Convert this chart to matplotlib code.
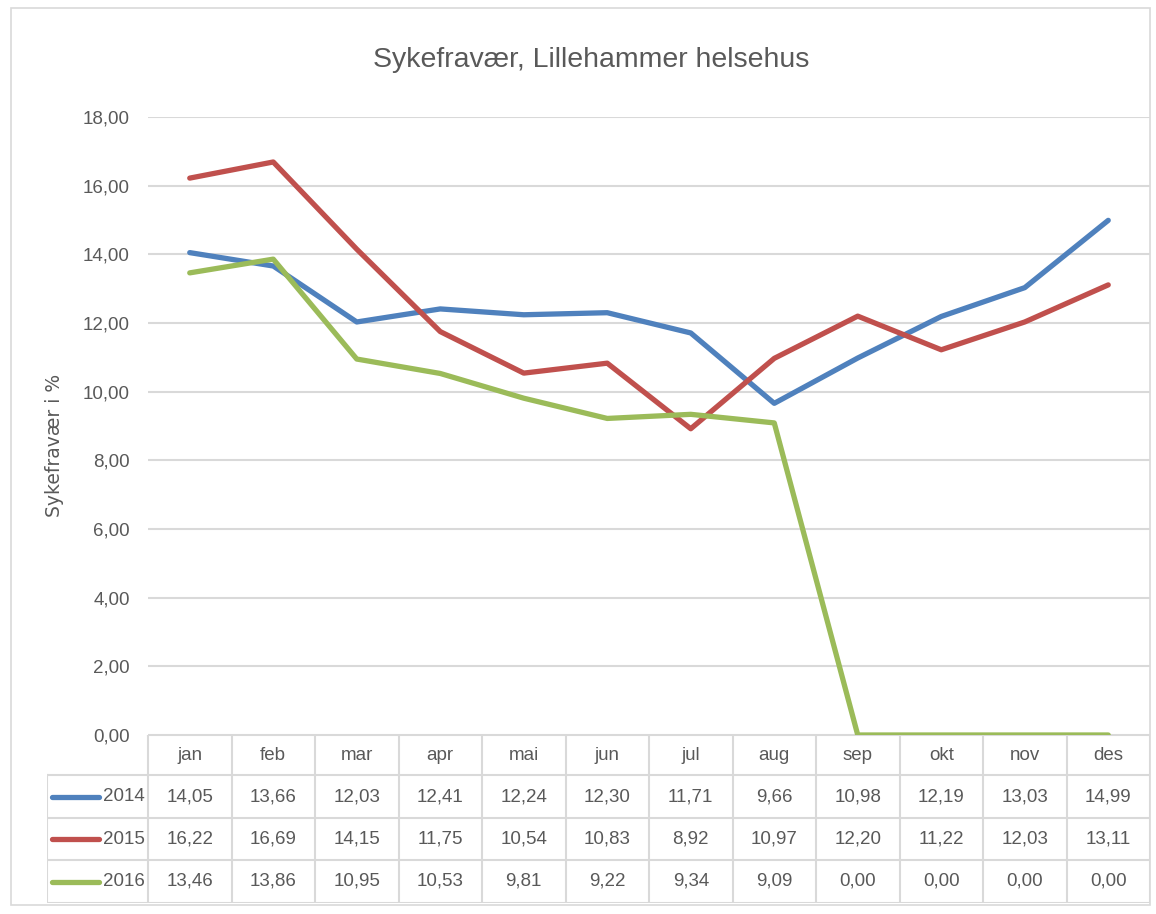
import matplotlib
matplotlib.use("Agg")
import matplotlib.pyplot as plt
from matplotlib.patches import Rectangle

# data
months = ["jan", "feb", "mar", "apr", "mai", "jun", "jul", "aug", "sep", "okt", "nov", "des"]
years = ["2014", "2015", "2016"]
v2014 = [14.05, 13.66, 12.03, 12.41, 12.24, 12.30, 11.71, 9.66, 10.98, 12.19, 13.03, 14.99]
v2015 = [16.22, 16.69, 14.15, 11.75, 10.54, 10.83, 8.92, 10.97, 12.20, 11.22, 12.03, 13.11]
v2016 = [13.46, 13.86, 10.95, 10.53, 9.81, 9.22, 9.34, 9.09, 0.00, 0.00, 0.00, 0.00]
yticks = [0, 2, 4, 6, 8, 10, 12, 14, 16, 18]

series = [v2014, v2015, v2016]
colors = ["#4f81bd", "#c0504d", "#9bbb59"]

# no narrow Calibri-like font here, Liberation Sans is the closest width
fam = ["Liberation Sans", "DejaVu Sans"]
fs = 13.5
txt = "#595959"
grid = "#d9d9d9"
W, H = 1156, 914

fig = plt.figure(figsize=(W / 100, H / 100), dpi=100)
fig.patches.append(Rectangle((11 / W, 9 / H), 1139 / W, 897 / H, transform=fig.transFigure,
                             fill=False, edgecolor=grid, linewidth=1.2))

# main plot
ax = fig.add_axes([148 / W, 1 - 735 / H, 1002 / W, (735 - 117) / H])
x = list(range(len(months)))
for vals, c in zip(series, colors):
    ax.plot(x, vals, color=c, linewidth=3.8, solid_capstyle="round", solid_joinstyle="round")
ax.set_xlim(-0.5, len(months) - 0.5)
ax.set_ylim(0, 18)
ax.set_yticks(yticks)
ax.set_yticklabels([f"{t:.2f}".replace(".", ",") for t in yticks], family=fam, fontsize=fs, color=txt)
ax.set_xticks([])
ax.tick_params(axis="y", length=0, pad=13)
for y in yticks:
    ax.axhline(y, color=grid, linewidth=1.5, zorder=0)
for s in ax.spines.values():
    s.set_visible(False)

fig.text(591 / W, 1 - 60 / H, "Sykefravær, Lillehammer helsehus", family=fam, fontsize=20.5,
         color=txt, ha="center", va="center")
fig.text(55 / W, 1 - 445 / H, "Sykefravær i %", family="DejaVu Sans", fontsize=13.5,
         color=txt, ha="center", va="center", rotation=90)

# data table
tax = fig.add_axes([47 / W, 1 - 903 / H, (1150 - 47) / W, 168 / H])
x0 = -0.5 - (148 - 47) / 83.5
tax.set_xlim(x0, len(months) - 0.5)
tax.set_ylim(0, 168)
tax.axis("off")
edges = [0, 43, 85, 128, 168]
lw = 1.5
for e in edges[:4]:
    tax.plot([x0, len(months) - 0.5], [e, e], color=grid, linewidth=lw)
tax.plot([-0.5, len(months) - 0.5], [168, 168], color=grid, linewidth=lw)
tax.plot([x0, x0], [0, 128], color=grid, linewidth=lw)
for i in range(len(months) + 1):
    tax.plot([i - 0.5, i - 0.5], [0, 168], color=grid, linewidth=lw)

for i, m in enumerate(months):
    tax.text(i, (edges[3] + edges[4]) / 2, m, family=fam, fontsize=fs, color=txt, ha="center", va="center")
for r, (yr, vals, c) in enumerate(zip(years, series, colors)):
    yc = (edges[2 - r] + edges[3 - r]) / 2
    tax.plot([x0 + 5 / 83.5, x0 + 52 / 83.5], [yc, yc], color=c, linewidth=3.8, solid_capstyle="round")
    tax.text(-0.54, yc, yr, family=fam, fontsize=fs, color=txt, ha="right", va="center")
    for i, v in enumerate(vals):
        tax.text(i, yc, f"{v:.2f}".replace(".", ","), family=fam, fontsize=fs, color=txt,
                 ha="center", va="center")

fig.savefig("out.png", dpi=100)
